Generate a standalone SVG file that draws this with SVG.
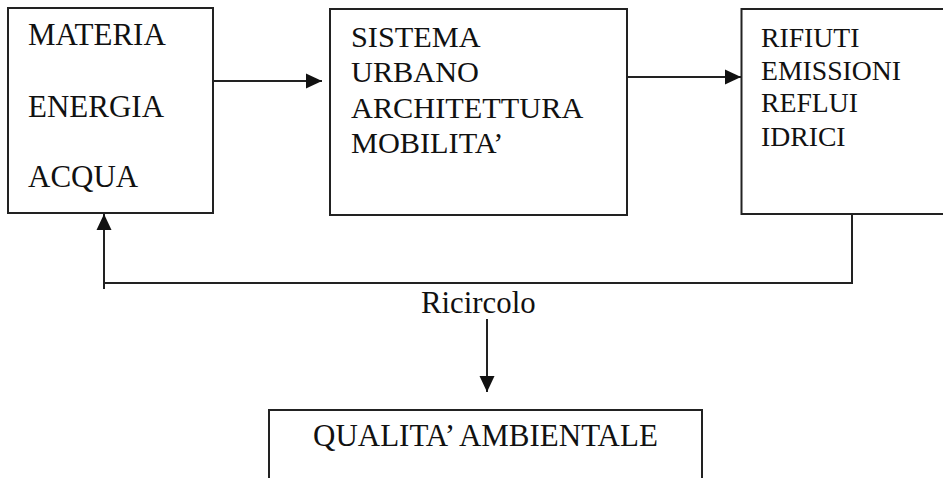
<svg xmlns="http://www.w3.org/2000/svg" width="943" height="478" viewBox="0 0 943 478">
<style>
.box{fill:#fff;stroke:#222;stroke-width:2}
.t{font-family:"Liberation Serif","Times New Roman",serif;font-size:29px;fill:#111}
.c{fill:none;stroke:#222;stroke-width:2}
</style>
<defs>
<marker id="ah" viewBox="0 0 16 16" refX="16" refY="8" markerWidth="16" markerHeight="16" markerUnits="userSpaceOnUse" orient="auto">
<path d="M0,0.5 L16,8 L0,15.5 Z" fill="#111"/>
</marker>
</defs>
<rect width="943" height="478" fill="#fff"/>
<g id="connectors">
<line class="c" x1="213" y1="81" x2="322" y2="81" marker-end="url(#ah)"/>
<line class="c" x1="627" y1="77" x2="741" y2="77" marker-end="url(#ah)"/>
<polyline class="c" points="852,215 852,283 104,283"/>
<line class="c" x1="104" y1="289" x2="104" y2="214" marker-end="url(#ah)"/>
<line class="c" x1="487" y1="319" x2="487" y2="392" marker-end="url(#ah)"/>
<text class="t" x="421" y="313" style="font-size:30.8px">Ricircolo</text>
</g>
<g id="node-input">
<rect class="box" x="8" y="8" width="205" height="205"/>
<text class="t" x="28" y="45" style="font-size:31px">MATERIA</text>
<text class="t" x="28" y="117" style="font-size:31px">ENERGIA</text>
<text class="t" x="28" y="187" style="font-size:31px">ACQUA</text>
</g>
<g id="node-sistema">
<rect class="box" x="330" y="9" width="297" height="206"/>
<text class="t" x="351" y="47" style="font-size:30.3px">SISTEMA</text>
<text class="t" x="351" y="82" style="font-size:30.3px">URBANO</text>
<text class="t" x="351" y="118" style="font-size:30.3px">ARCHITETTURA</text>
<text class="t" x="351" y="153" style="font-size:30.3px">MOBILITA’</text>
</g>
<g id="node-output">
<rect class="box" x="741.5" y="9" width="215" height="205"/>
<text class="t" x="761" y="47" style="font-size:27.7px">RIFIUTI</text>
<text class="t" x="761" y="80" style="font-size:27.7px">EMISSIONI</text>
<text class="t" x="761" y="112" style="font-size:27.7px">REFLUI</text>
<text class="t" x="761" y="146" style="font-size:27.7px">IDRICI</text>
</g>
<g id="node-qualita">
<rect class="box" x="269" y="410" width="433" height="80"/>
<text class="t" x="313" y="446" style="font-size:31px">QUALITA’ AMBIENTALE</text>
</g>
</svg>
